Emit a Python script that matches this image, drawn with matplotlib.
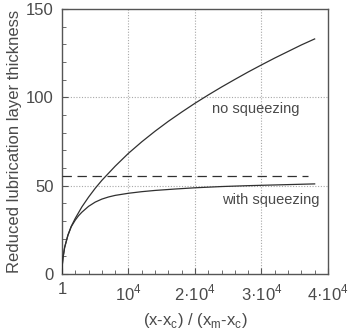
import matplotlib
matplotlib.use("Agg")
import matplotlib.pyplot as plt
from matplotlib.ticker import MultipleLocator

# values
x_no = [1, 50, 150, 400, 900, 1400, 2000, 3000, 4000, 5000, 6000, 8000, 10000,
        12000, 14000, 16000, 18000, 20000, 22000, 24000, 26000, 28000, 30000,
        32000, 34000, 36000, 38000]
y_no = [0.0, 5.0, 9.0, 15.0, 22.0, 27.0, 31.5, 38.0, 43.5, 48.5, 53.0, 61.0, 68.3,
        74.8, 80.8, 86.4, 91.6, 96.6, 101.3, 105.8, 110.1, 114.3, 118.3,
        122.2, 125.9, 129.6, 133.0]

x_sq = [1, 50, 150, 400, 900, 1400, 2000, 2500, 3000, 4000, 5000, 6000, 7000,
        8000, 10000, 12000, 14000, 17000, 20000, 24000, 28000, 32000, 35000, 38000]
y_sq = [0.0, 5.0, 9.0, 15.0, 22.0, 26.8, 30.5, 33.0, 35.0, 38.3, 40.7, 42.4, 43.6,
        44.5, 45.7, 46.6, 47.3, 48.1, 48.8, 49.5, 50.0, 50.4, 50.7, 51.0]

dash_x = [1, 37000]
dash_y = [55.5, 55.5]

xticks = [1, 10000, 20000, 30000, 40000]
xticklabels = ["1", r"10$^\mathregular{4}$", r"2·10$^\mathregular{4}$",
               r"3·10$^\mathregular{4}$", r"4·10$^\mathregular{4}$"]
yticks = [0, 50, 100, 150]

plt.rcParams["font.family"] = ["Liberation Sans", "DejaVu Sans"]
txt = "#4a4a4a"
line = "#303030"

fig = plt.figure(figsize=(3.5, 3.29), dpi=100)
ax = fig.add_axes([0.177, 0.167, 0.760, 0.806])

for gx in [10000, 20000, 30000]:
    ax.axvline(gx, color="#a8a8a8", lw=0.8, ls=(0, (1, 1.5)), zorder=1)
for gy in [50, 100]:
    ax.axhline(gy, color="#a8a8a8", lw=0.8, ls=(0, (1, 1.5)), zorder=1)

ax.plot(x_no, y_no, color=line, lw=0.9, zorder=3)
ax.plot(x_sq, y_sq, color=line, lw=0.9, zorder=3)
ax.plot(dash_x, dash_y, color=line, lw=0.9, ls=(0, (7.5, 4.5)), zorder=3)

ax.text(29200, 93.5, "no squeezing", ha="center", va="center", fontsize=10.5, color=txt)
ax.text(31400, 42, "with squeezing", ha="center", va="center", fontsize=10.5, color=txt)

ax.set_xlim(1, 40000)
ax.set_ylim(0, 150)
ax.set_xticks(xticks)
ax.set_xticklabels(xticklabels)
ax.set_yticks(yticks)
ax.xaxis.set_minor_locator(MultipleLocator(2000))
ax.yaxis.set_minor_locator(MultipleLocator(10))
ax.tick_params(which="both", direction="in", color="#555555", labelcolor=txt,
               labelsize=12, top=False, right=False)
ax.tick_params(axis="x", which="major", length=4, pad=6)
ax.tick_params(axis="y", which="major", length=4, pad=6)
ax.tick_params(which="minor", length=3)

for s in ax.spines.values():
    s.set_color("#555555")
    s.set_linewidth(1.0)

ax.set_ylabel("Reduced lubrication layer thickness", fontsize=12, color=txt, labelpad=3)
ax.set_xlabel(r"(x-x$_\mathregular{c}$) / (x$_\mathregular{m}$-x$_\mathregular{c}$)",
              fontsize=12, color=txt, labelpad=6)

fig.savefig("out.png", dpi=100)
